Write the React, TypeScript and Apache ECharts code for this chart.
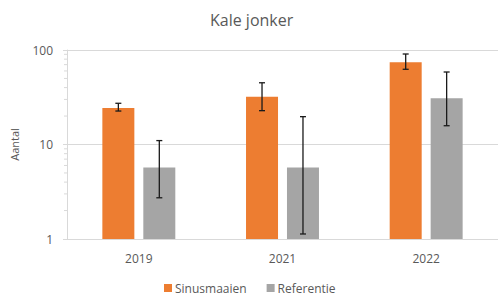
import React, { useEffect, useRef } from "react";
import * as echarts from "echarts";

const categories = ["2019", "2021", "2022"];
const sinusValues = [24.3, 32, 74];
const sinusLow = [22.6, 22.8, 62.5];
const sinusHigh = [27.3, 45, 90.7];
const refValues = [5.7, 5.7, 30.8];
const refLow = [2.73, 1.13, 15.8];
const refHigh = [11.0, 19.7, 58.5];
const minorTickValues = [2, 3, 4, 5, 6, 7, 8, 9, 20, 30, 40, 50, 60, 70, 80, 90];

const BAR_W = 32;
const BAR_GAP = 0.28;

export default function App() {
  const ref = useRef<HTMLDivElement>(null);
  useEffect(() => {
    if (!ref.current) return;
    document.body.style.margin = "0";
    const chart = echarts.init(ref.current, null, { renderer: "svg" });
    const offset = (BAR_W * (1 + BAR_GAP)) / 2;
    const errRender = (dir: number) => (params: any, api: any) => {
      const i = api.value(0);
      const lo = api.coord([i, api.value(1)]);
      const hi = api.coord([i, api.value(2)]);
      const x = lo[0] + dir * offset;
      const cap = 3;
      const style = { stroke: "#1a1a1a", lineWidth: 1.3 };
      return {
        type: "group",
        children: [
          { type: "line", shape: { x1: x, y1: lo[1], x2: x, y2: hi[1] }, style },
          { type: "line", shape: { x1: x - cap, y1: lo[1], x2: x + cap, y2: lo[1] }, style },
          { type: "line", shape: { x1: x - cap, y1: hi[1], x2: x + cap, y2: hi[1] }, style },
        ],
      };
    };
    const textColor = "#595959";
    const font = "'Open Sans', sans-serif";
    chart.setOption({
      animation: false,
      title: {
        text: "Kale jonker",
        left: 205,
        top: 7,
        textStyle: { color: textColor, fontSize: 16, fontWeight: "normal", fontFamily: font },
      },
      legend: {
        bottom: 2,
        left: 159,
        icon: "rect",
        itemWidth: 8,
        itemHeight: 8,
        itemGap: 20,
        textStyle: { color: textColor, fontSize: 12, fontFamily: font, padding: [0, 0, 0, -2] },
        data: ["Sinusmaaien", "Referentie"],
      },
      grid: { left: 67, right: -4, top: 50, bottom: 62, containLabel: false },
      xAxis: {
        type: "category",
        data: categories,
        axisLine: { lineStyle: { color: "#d9d9d9" } },
        axisTick: { show: false },
        axisLabel: { color: textColor, fontSize: 12, fontFamily: font, margin: 13 },
      },
      yAxis: {
        type: "log",
        logBase: 10,
        min: 1,
        max: 100,
        name: "Aantal",
        nameLocation: "middle",
        nameRotate: 90,
        nameGap: 47,
        nameTextStyle: { color: textColor, fontSize: 11, fontFamily: font },
        axisLine: { show: true, lineStyle: { color: "#d9d9d9" } },
        axisTick: { show: true, inside: false, length: 4, lineStyle: { color: "#d9d9d9" } },
        axisLabel: { color: textColor, fontSize: 12, fontFamily: font, margin: 14 },
        splitLine: { lineStyle: { color: "#d9d9d9" } },
      },
      series: [
        {
          name: "Sinusmaaien",
          type: "bar",
          data: sinusValues,
          barWidth: BAR_W,
          barGap: BAR_GAP * 100 + "%",
          itemStyle: { color: "#ED7D31" },
        },
        {
          name: "Referentie",
          type: "bar",
          data: refValues,
          barWidth: BAR_W,
          barGap: BAR_GAP * 100 + "%",
          itemStyle: { color: "#A5A5A5" },
        },
        {
          type: "custom",
          renderItem: errRender(-1),
          data: categories.map((_, i) => [i, sinusLow[i], sinusHigh[i]]),
          encode: { x: 0, y: [1, 2] },
          z: 10,
          silent: true,
        },
        {
          type: "custom",
          renderItem: errRender(1),
          data: categories.map((_, i) => [i, refLow[i], refHigh[i]]),
          encode: { x: 0, y: [1, 2] },
          z: 10,
          silent: true,
        },
        {
          type: "custom",
          renderItem: (params: any, api: any) => {
            const p = api.coord([0, api.value(1)]);
            const band = api.size([1, 0])[0];
            const x = p[0] - band / 2;
            return {
              type: "line",
              shape: { x1: x - 3, y1: p[1], x2: x, y2: p[1] },
              style: { stroke: "#d9d9d9", lineWidth: 1 },
            };
          },
          data: minorTickValues.map((v) => [0, v]),
          encode: { x: 0, y: 1 },
          silent: true,
          clip: false,
        },
      ],
    });
    return () => chart.dispose();
  }, []);
  return <div ref={ref} style={{ width: 498, height: 301 }} />;
}
